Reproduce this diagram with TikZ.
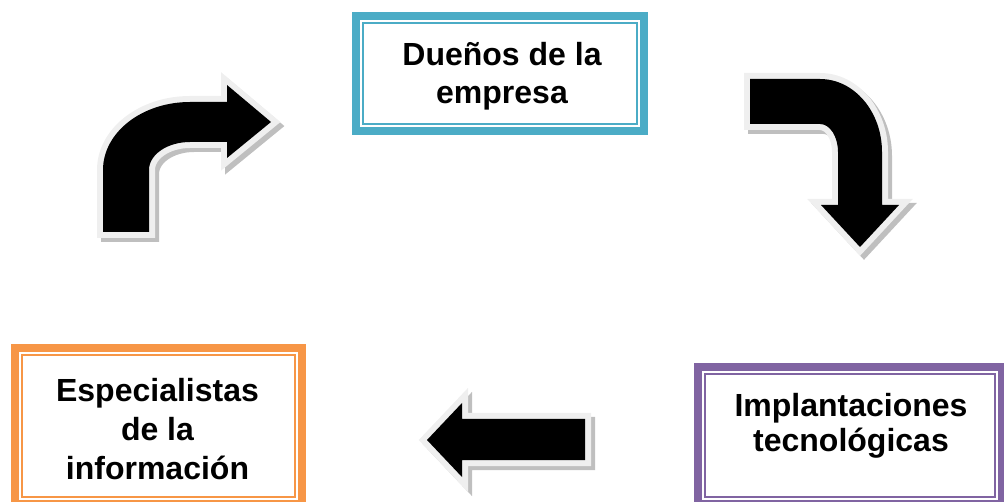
\documentclass[tikz,border=0pt]{standalone}
\usepackage{fontspec}
\setmainfont{Liberation Sans}
\definecolor{tealC}{HTML}{4BACC6}
\definecolor{orangeC}{HTML}{F79646}
\definecolor{purpleC}{HTML}{8064A2}
\definecolor{outlineC}{HTML}{EFEFEF}
\definecolor{shadowC}{HTML}{BFBFBF}
\newcommand{\fancyarrow}[1]{%
  \begin{scope}[shift={(4pt,-4pt)}]
    \filldraw[shadowC, line width=12pt, line join=miter] #1;
  \end{scope}
  \draw[outlineC, line width=12pt, line join=miter] #1;
  \fill[black] #1;
}
\tikzset{
  framebox/.style={draw=#1, line width=8pt, rectangle, inner sep=0pt, outer sep=0pt, fill=white},
  innerframe/.style={draw=#1, line width=1.7pt},
  label text/.style={font=\bfseries\fontsize{32pt}{#1}\selectfont, align=center, inner sep=0pt, outer sep=0pt, text=black},
}
\begin{document}
\begin{tikzpicture}[x=1pt, y=-1pt]
\useasboundingbox (0,0) rectangle (1004,502);
\clip (0,0) rectangle (1004,502);

% boxes
\node[framebox=tealC, minimum width=288pt, minimum height=115pt] (dbox) at (500,73.5) {};
\draw[innerframe=tealC] ([shift={(7pt,-7pt)}]dbox.north west) rectangle ([shift={(-7pt,7pt)}]dbox.south east);
\node[framebox=orangeC, minimum width=287pt, minimum height=156pt] (ebox) at (158.5,426) {};
\draw[innerframe=orangeC] ([shift={(7pt,-7pt)}]ebox.north west) rectangle ([shift={(-7pt,7pt)}]ebox.south east);
\node[framebox=purpleC, minimum width=304pt, minimum height=137pt] (ibox) at (850,435.5) {};
\draw[innerframe=purpleC] ([shift={(7pt,-7pt)}]ibox.north west) rectangle ([shift={(-7pt,7pt)}]ibox.south east);

% texts
\node[label text=37.5pt] (dtext) at (502,76.2) {Dueños de la\\empresa};
\node[label text=39pt] (etext) at (157.5,429.2) {Especialistas\\de la\\información};
\node[label text=35pt] (itext) at (851,425.4) {Implantaciones\\tecnológicas};

% arrows
\fancyarrow{(103,232) -- (103,170) .. controls (103,132.4) and (142,102) .. (190,102) -- (227,102) -- (227,85) -- (271,122) -- (227,158) -- (227,142) -- (190,142) .. controls (167.4,142) and (149,154.5) .. (149,170) -- (149,232) -- cycle}
\fancyarrow{(750,79) -- (820,79) .. controls (854.2,79) and (882,111.7) .. (882,152) -- (882,205) -- (899,205) -- (860,247) -- (821,205) -- (838,205) -- (838,152) .. controls (838,136.5) and (829.9,124) .. (820,124) -- (750,124) -- cycle}
\fancyarrow{(585,419) -- (462,419) -- (462,403) -- (427,440) -- (462,477) -- (462,460) -- (585,460) -- cycle}
\end{tikzpicture}
\end{document}
